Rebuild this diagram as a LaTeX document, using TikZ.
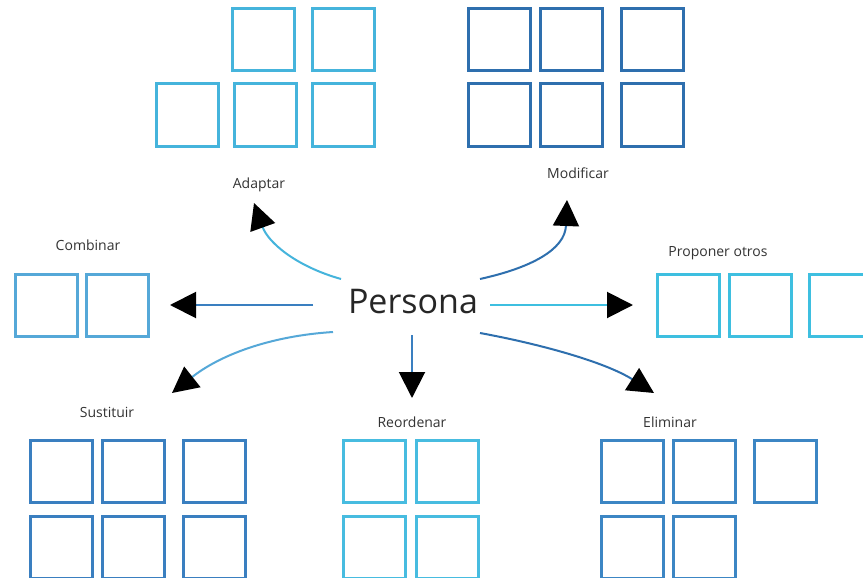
\documentclass[tikz,border=0pt]{standalone}
\usepackage{fontspec}
\setmainfont{Open Sans}
\usetikzlibrary{arrows.meta}
\definecolor{cAd}{HTML}{45B4DC}
\definecolor{cMo}{HTML}{2E6FAE}
\definecolor{cCo}{HTML}{55A8D8}
\definecolor{cPr}{HTML}{3EBFE0}
\definecolor{cSu}{HTML}{3A7FC0}
\definecolor{cRe}{HTML}{47BCE0}
\definecolor{cEl}{HTML}{3C86C4}
\definecolor{txt}{HTML}{333333}
\tikzset{
  box/.style={draw=#1, line width=3pt, minimum size=62pt, inner sep=0pt, fill=white},
  lbl/.style={text=txt, font=\fontsize{14}{16}\selectfont, inner sep=0pt},
  conn/.style={line width=2pt, draw=#1, -{Triangle[length=26pt,width=26pt,color=black]}},
}
\begin{document}
\begin{tikzpicture}[x=1pt,y=-1pt]
\useasboundingbox (0,0) rectangle (863,578);
\clip (0,0) rectangle (863,578);
\fill[white] (0,0) rectangle (863,578);
% Adaptar
\node[box=cAd] (ad1) at (263,40) {};
\node[box=cAd] (ad2) at (343,40) {};
\node[box=cAd] (ad3) at (187,115) {};
\node[box=cAd] (ad4) at (265,115) {};
\node[box=cAd] (ad5) at (343,115) {};
\node[lbl] (lAd) at (259,185) {Adaptar};
% Modificar
\node[box=cMo] (mo1) at (499,40) {};
\node[box=cMo] (mo2) at (571,40) {};
\node[box=cMo] (mo3) at (652,40) {};
\node[box=cMo] (mo4) at (499,115) {};
\node[box=cMo] (mo5) at (571,115) {};
\node[box=cMo] (mo6) at (652,115) {};
\node[lbl] (lMo) at (578,173) {Modificar};
% Combinar
\node[box=cCo] (co1) at (46,305) {};
\node[box=cCo] (co2) at (117,305) {};
\node[lbl] (lCo) at (88,245) {Combinar};
% Proponer otros
\node[box=cPr] (pr1) at (688,305) {};
\node[box=cPr] (pr2) at (760,305) {};
\node[box=cPr] (pr3) at (840,305) {};
\node[lbl] (lPr) at (718,253) {Proponer otros};
% Sustituir
\node[box=cSu] (su1) at (61,471) {};
\node[box=cSu] (su2) at (133,471) {};
\node[box=cSu] (su3) at (214,471) {};
\node[box=cSu] (su4) at (61,547) {};
\node[box=cSu] (su5) at (133,547) {};
\node[box=cSu] (su6) at (214,547) {};
\node[lbl] (lSu) at (107,412) {Sustituir};
% Reordenar
\node[box=cRe] (re1) at (374,471) {};
\node[box=cRe] (re2) at (447,471) {};
\node[box=cRe] (re3) at (374,547) {};
\node[box=cRe] (re4) at (447,547) {};
\node[lbl] (lRe) at (412,422) {Reordenar};
% Eliminar
\node[box=cEl] (el1) at (632,471) {};
\node[box=cEl] (el2) at (704,471) {};
\node[box=cEl] (el3) at (785,471) {};
\node[box=cEl] (el4) at (632,547) {};
\node[box=cEl] (el5) at (704,547) {};
\node[lbl] (lEl) at (670,422) {Eliminar};
% Persona
\node[text=black!85, font=\fontsize{34}{38}\selectfont, inner sep=0pt] (per) at (413,302) {Persona};
% connector ends
\coordinate (sAd) at (341,279);
\coordinate (tAd) at (254,203);
\coordinate (sMo) at (480,279);
\coordinate (tMo) at (567,200);
\coordinate (sCo) at (313,305);
\coordinate (tCo) at (170,305);
\coordinate (sPr) at (490,305);
\coordinate (tPr) at (633,305);
\coordinate (sSu) at (333,332);
\coordinate (tSu) at (172,393);
\coordinate (sRe) at (412,335);
\coordinate (tRe) at (412,398);
\coordinate (sEl) at (480,333);
\coordinate (tEl) at (654,393);
\draw[conn=cAd] (sAd) .. controls (295,266) and (268,242) .. (tAd);
\draw[conn=cMo] (sMo) .. controls (530,268) and (565,250) .. (tMo);
\draw[conn=cSu] (sCo) -- (tCo);
\draw[conn=cPr] (sPr) -- (tPr);
\draw[conn=cCo] (sSu) .. controls (270,336) and (220,355) .. (tSu);
\draw[conn=cSu] (sRe) -- (tRe);
\draw[conn=cMo] (sEl) .. controls (540,344) and (605,362) .. (tEl);
\end{tikzpicture}
\end{document}
